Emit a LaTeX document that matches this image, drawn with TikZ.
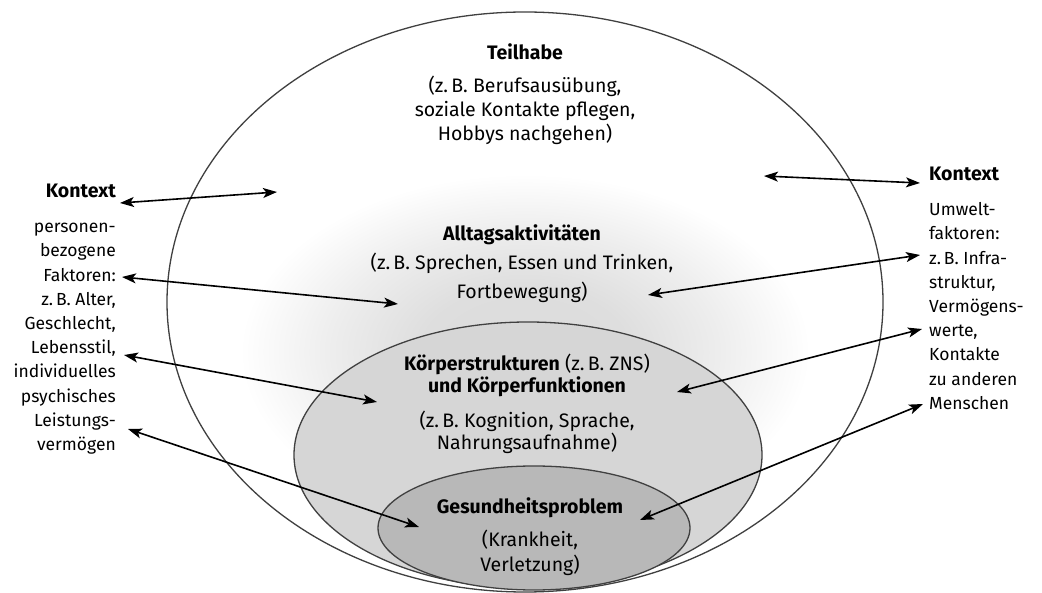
\documentclass[tikz,border=0pt]{standalone}
\usepackage{fontspec}
\setmainfont{Fira Sans}
\usetikzlibrary{arrows.meta}
% soft grey haze with a flat core that fades to white at the rim
\pgfdeclareradialshading{haze}{\pgfpointorigin}{color(0bp)=(black!14); color(9bp)=(black!13); color(17bp)=(black!7); color(25bp)=(white); color(50bp)=(white)}
% heading of the context columns
\newcommand\ctxfont{\fontsize{19.5}{24.2}\selectfont\bfseries}

\begin{document}
\begin{tikzpicture}[x=1pt,y=-1pt,
  rim/.style={draw=black!75, line width=1.3pt},
  tip/.tip={Stealth[length=14pt,width=10pt,inset=3.5pt]},
  link/.style={tip-tip, line width=1.6pt, black},
  txt/.style={inner sep=0pt, align=center},
  side/.style={inner sep=0pt, font=\fontsize{17.5}{24.2}\selectfont},
]
\useasboundingbox[fill=white] (0,0) rectangle (1042,593);

% haze around the everyday activities
\shade[shading=haze] (525,352) ellipse [x radius=285pt, y radius=178pt];

% nested ellipses
\draw[rim] (525,302) ellipse [x radius=358pt, y radius=290pt];
\draw[rim, fill=black!16] (528,455) ellipse [x radius=234pt, y radius=133pt];
\draw[rim, fill=black!28] (534,528) ellipse [x radius=156pt, y radius=62pt];

% ellipse texts
\node[txt, font=\fontsize{19.5}{24}\selectfont] (teil) at (525,94)
  {\textbf{Teilhabe}\\[9pt] (z.\,B. Berufsausübung,\\ soziale Kontakte pflegen,\\ Hobbys nachgehen)};
\node[txt, font=\fontsize{19.5}{29}\selectfont] (alltag) at (522,264)
  {\textbf{Alltagsaktivitäten}\\ (z.\,B. Sprechen, Essen und Trinken,\\ Fortbewegung)};
\node[txt, font=\fontsize{19.5}{22}\selectfont] (koerper) at (527,404)
  {\textbf{Körperstrukturen} (z.\,B. ZNS)\\ \textbf{und Körperfunktionen}\\[13pt] (z.\,B. Kognition, Sprache,\\ Nahrungsaufnahme)};
\node[txt, font=\fontsize{19.5}{25}\selectfont] (gesund) at (530,537)
  {\textbf{Gesundheitsproblem}\\[8pt] (Krankheit,\\ Verletzung)};

% context columns
\node[side, anchor=north east, align=right] (kl) at (116,184)
  {{\ctxfont Kontext}\\[10.8pt] personen-\\ bezogene\\ Faktoren:\\ z.\,B. Alter,\\ Geschlecht,\\ Lebensstil,\\ individuelles\\ psychisches\\ Leistungs-\\ vermögen};
\node[side, anchor=north west, align=left] (kr) at (929,167)
  {{\ctxfont Kontext}\\[10.8pt] Umwelt-\\ faktoren:\\ z.\,B. Infra-\\ struktur,\\ Vermögens-\\ werte,\\ Kontakte\\ zu anderen\\ Menschen};

% arrow ends
\coordinate (l1a) at (120,203); \coordinate (l1b) at (277,192);
\coordinate (l2a) at (122,277); \coordinate (l2b) at (398,304);
\coordinate (l3a) at (124,355); \coordinate (l3b) at (377,402);
\coordinate (l4a) at (128,429); \coordinate (l4b) at (419,527);
\coordinate (r1a) at (764,176); \coordinate (r1b) at (920,183);
\coordinate (r2a) at (648,295); \coordinate (r2b) at (920,255);
\coordinate (r3a) at (677,392); \coordinate (r3b) at (922,329);
\coordinate (r4a) at (640,520); \coordinate (r4b) at (923,404);

\draw[link] (l1a) -- (l1b);
\draw[link] (l2a) -- (l2b);
\draw[link] (l3a) -- (l3b);
\draw[link] (l4a) -- (l4b);
\draw[link] (r1a) -- (r1b);
\draw[link] (r2a) -- (r2b);
\draw[link] (r3a) -- (r3b);
\draw[link] (r4a) -- (r4b);
\end{tikzpicture}
\end{document}
